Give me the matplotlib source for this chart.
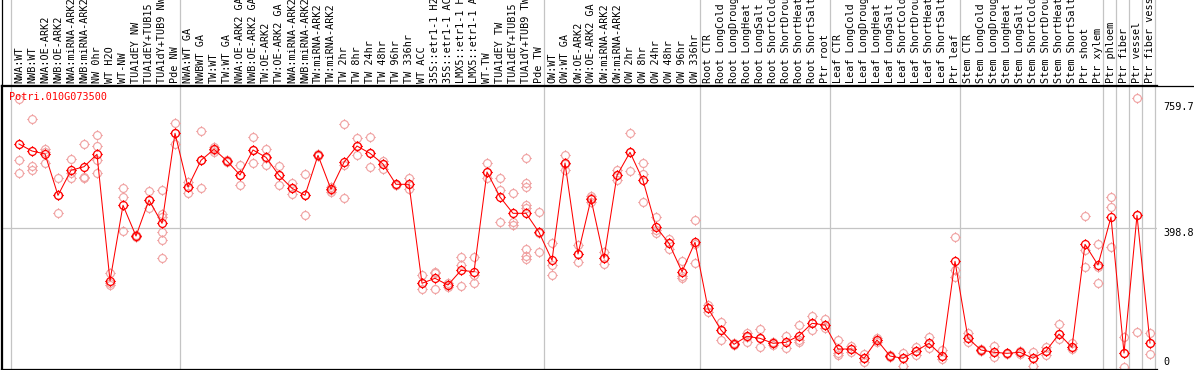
import matplotlib
matplotlib.use("Agg")
import matplotlib.pyplot as plt
import matplotlib.path as mpath
from matplotlib.lines import Line2D
import matplotlib.transforms as mtrans

gene = "Potri.010G073500"

labels = [
    "NWA:WT", "NWB:WT", "NWA:OE-ARK2", "NWB:OE-ARK2", "NWA:miRNA-ARK2", "NWB:miRNA-ARK2",
    "NW 0hr", "WT H2O", "WT-NW", "TUA1dEY NW", "TUA1dEY+TUB15 NW", "TUA1dY+TUB9 NW", "Pde NW",
    "NWA:WT GA", "NWBWT GA", "TW:WT", "TW:WT GA", "NWA:OE-ARK2 GA", "NWB:OE-ARK2 GA",
    "TW:OE-ARK2", "TW:OE-ARK2 GA", "NWA:miRNA-ARK2", "NWB:miRNA-ARK2", "TW:miRNA-ARK2",
    "TW:miRNA-ARK2", "TW 2hr", "TW 8hr", "TW 24hr", "TW 48hr", "TW 96hr", "TW 336hr", "WT ACC",
    "35S::etr1-1 H2O", "35S::etr1-1 ACC", "LMX5::etr1-1 H2O", "LMX5::etr1-1 ACC", "WT-TW",
    "TUA1dEY TW", "TUA1dEY+TUB15 TW", "TUA1dY+TUB9 TW", "Pde TW",
    "OW:WT", "OW:WT GA", "OW:OE-ARK2", "OW:OE-ARK2 GA", "OW:miRNA-ARK2", "OW:miRNA-ARK2",
    "OW 2hr", "OW 8hr", "OW 24hr", "OW 48hr", "OW 96hr", "OW 336hr",
    "Root CTR", "Root LongCold", "Root LongDrought", "Root LongHeat", "Root LongSalt",
    "Root ShortCold", "Root ShortDrought", "Root ShortHeat", "Root ShortSalt", "Ptr root",
    "Leaf CTR", "Leaf LongCold", "Leaf LongDrought", "Leaf LongHeat", "Leaf LongSalt",
    "Leaf ShortCold", "Leaf ShortDrought", "Leaf ShortHeat", "Leaf ShortSalt", "Ptr leaf",
    "Stem CTR", "Stem LongCold", "Stem LongDrought", "Stem LongHeat", "Stem LongSalt",
    "Stem ShortCold", "Stem ShortDrought", "Stem ShortHeat", "Stem ShortSalt", "Ptr shoot",
    "Ptr xylem", "Ptr phloem", "Ptr fiber", "Ptr vessel", "Ptr fiber vessel",
]

# samples per group (separated by grey lines)
group_sizes = [13, 28, 12, 10, 10, 11, 1, 1, 1, 1]

means = [
    639.6, 619.5, 610.9, 492.4, 564.1, 574.5, 610.0, 247.5, 463.8, 375.7, 479.0, 412.1, 670.3,
    516.2, 592.8, 624.4, 590.8, 550.7, 622.4, 601.4, 549.8, 512.5, 492.4, 607.2, 509.6, 587.1,
    633.8, 612.9, 582.2, 524.0, 524.0, 240.1, 254.4, 235.2, 277.3, 273.3, 559.3, 487.6, 440.8,
    440.8, 386.3,
    306.0, 585.1, 324.1, 481.8, 311.8, 549.8, 615.8, 535.5, 401.5, 354.8, 273.3, 357.6,
    168.4, 106.1, 65.1, 88.0, 82.3, 68.0, 70.8, 89.8, 125.3, 120.5,
    51.6, 51.6, 25.0, 77.4, 31.5, 25.0, 45.9, 68.0, 32.4, 303.1,
    82.3, 48.8, 42.2, 39.3, 42.2, 25.0, 45.9, 94.6, 56.5, 351.9, 292.5,
    430.2, 40.2, 435.1, 68.8,
]

reps = [
    [767.8, 592.8, 555.5], [710.4, 576.5, 565.0], [624.4, 617.5, 584.2], [542.9, 492.4, 440.8],
    [595.7, 555.5, 541.2], [638.7, 544.1, 541.2], [665.4, 633.8, 593.7, 555.5],
    [268.7, 241.8, 235.2], [512.5, 486.7, 389.2], [378.0, 374.0, 375.0], [503.9, 479.0, 455.2],
    [507.6, 438.8, 431.1, 386.3, 364.2, 311.8], [698.9, 670.3, 639.6],
    [531.4, 517.1, 498.2], [676.0, 592.8, 512.5], [630.1, 622.4, 617.5], [593.7, 590.8, 588.8],
    [580.2, 550.7, 521.1], [658.8, 622.4, 584.2], [624.4, 598.6, 578.5], [576.5, 549.8, 521.1],
    [528.6, 512.5, 497.0], [553.5, 492.4, 435.1], [610.0, 607.2, 605.1], [517.1, 507.6, 502.8],
    [696.1, 579.3, 483.8], [655.9, 633.8, 607.2], [658.8, 612.9, 572.7], [591.7, 582.2, 567.9],
    [524.8, 522.8, 521.1], [541.2, 524.0, 509.6], [263.9, 241.8, 222.8], [273.3, 268.7, 222.8],
    [240.9, 235.2, 229.4], [314.6, 292.5, 232.3], [314.6, 264.7, 240.1], [584.2, 560.1, 541.2],
    [541.2, 507.6, 415.0], [498.2, 416.7, 407.3],
    [598.6, 528.6, 517.1, 464.6, 455.2, 337.6, 319.2, 309.7], [445.4, 384.3, 329.0],
    [356.5, 292.5, 263.0], [608.0, 582.2, 565.0], [349.9, 324.1, 300.3], [490.4, 483.8, 474.1],
    [329.0, 311.8, 294.5], [565.0, 549.8, 536.3], [670.3, 615.8, 561.3], [584.2, 552.7, 472.4],
    [429.3, 392.9, 385.2], [367.1, 354.8, 337.6], [304.9, 261.0, 254.4], [421.6, 353.9, 297.4],
    [177.8, 168.4, 158.6], [128.2, 106.1, 77.4], [68.0, 65.1, 62.2], [98.4, 86.9, 70.8],
    [109.0, 82.3, 56.5], [72.6, 68.0, 63.1], [88.9, 70.8, 55.4], [120.5, 77.4, 71.7],
    [146.3, 125.3, 106.1], [137.7, 120.5, 111.0],
    [77.4, 39.3, 34.4], [60.2, 51.6, 43.9], [36.4, 25.0, 15.2], [84.0, 77.4, 72.6],
    [34.4, 31.5, 29.5], [41.0, 25.0, 2.9], [56.5, 45.9, 34.4], [86.9, 68.0, 53.6],
    [48.8, 32.4, 22.1], [372.0, 278.2, 257.3],
    [96.7, 82.3, 72.6], [50.8, 48.8, 46.7], [60.2, 42.2, 29.5], [41.0, 39.3, 37.3],
    [46.7, 42.2, 37.3], [43.9, 25.0, 3.7], [58.2, 45.9, 34.4], [122.5, 94.6, 79.4],
    [69.7, 56.5, 50.8], [433.9, 335.6, 285.9], [351.9, 287.7, 240.1],
    [486.7, 458.0, 345.0], [86.9, 41.0, 0.0], [770.6, 435.1, 99.5], [96.7, 69.7, 36.4],
]

ytick_vals = [0, 398.8, 759.7]

W, H = 1194, 370
fig = plt.figure(figsize=(W / 100, H / 100), dpi=100)
ax = fig.add_axes([1 / W, 1 / H, 1156 / W, 284 / H])
ax.set_xlim(-18 / 13, 1138 / 13)
ax.set_ylim(-5.7, 808.8)
ax.set_xticks([])
ax.set_yticks([])
for s in ["left", "bottom", "top"]:
    ax.spines[s].set_linewidth(0.9)
    ax.spines[s].set_color("black")
ax.spines["right"].set_visible(False)

mono = "DejaVu Sans Mono"
fs = 7.3

# sample circle marker with little ticks
circ = mpath.Path.unit_circle()
tk = [mpath.Path([(0, 1), (0, 1.35)]), mpath.Path([(0, -1), (0, -1.35)]),
      mpath.Path([(1, 0), (1.35, 0)]), mpath.Path([(-1, 0), (-1.35, 0)])]
marker = mpath.Path.make_compound_path(circ, *tk)

xs = list(range(len(labels)))

# grey separators, running up through the label area
top_ax = (H - 1) / 284
start = 0
bounds = []
for g in group_sizes:
    bounds.append(start - 0.6)
    start += g
bounds.append(start - 0.6)
for b in bounds:
    ax.axvline(b, ymin=0, ymax=top_ax, color="#c4c4c4", lw=0.9, clip_on=False, zorder=1)
ax.axhline(398.8, color="#c4c4c4", lw=0.9, zorder=1)

# replicates
rx, ry = [], []
for i, r in enumerate(reps):
    rx += [i] * len(r)
    ry += r
ax.plot(rx, ry, ls="none", marker=marker, ms=7.6, mfc="none", mec="#f0a0a0", mew=0.8, zorder=2)

# means
ax.plot(xs, means, color="red", lw=0.75, zorder=3)
ax.plot(xs, means, ls="none", marker=marker, ms=7.6, mfc="none", mec="red", mew=0.9, zorder=4)

# sample labels
trans = mtrans.blended_transform_factory(ax.transData, ax.transAxes)
ylab = (369 - 83) / 284
for i, lab in enumerate(labels):
    ax.text(i, ylab, lab, rotation=90, ha="center", va="bottom", transform=trans,
            family=mono, fontsize=fs, clip_on=False)

# top rule across the full width, left rule over the full height
fig.add_artist(Line2D([1 / W, 1], [1 - 85.5 / H, 1 - 85.5 / H], color="black", lw=0.9))
fig.add_artist(Line2D([1.5 / W, 1.5 / W], [0, 1], color="black", lw=0.9))

# value labels on the right
xr = 1162 / 1156
for v in ytick_vals:
    va = "bottom" if v == 0 else "top"
    ax.text(xr, v, ("%g" % v) if v == 0 else "%.1f" % v,
            transform=mtrans.blended_transform_factory(ax.transAxes, ax.transData),
            ha="left", va=va, family=mono, fontsize=fs, clip_on=False)

fig.text(9 / W, 1 - 97 / H, gene, color="red", family=mono, fontsize=fs, va="center", ha="left")

fig.savefig("out.png", dpi=100)
